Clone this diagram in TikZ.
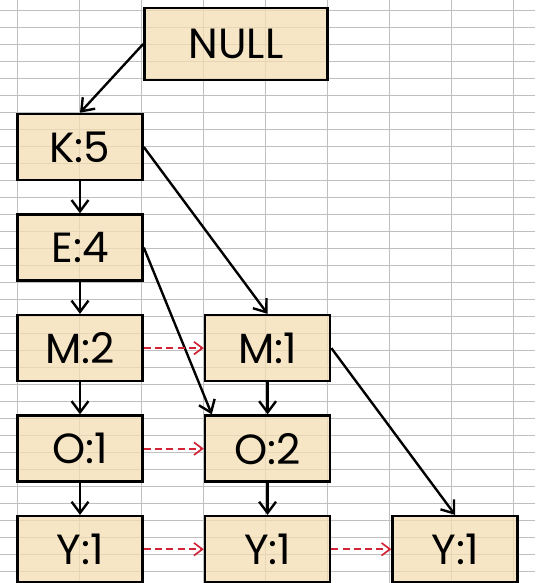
\documentclass[tikz,border=0pt]{standalone}
\usepackage{fontspec}
\setmainfont{Poppins}
\usetikzlibrary{arrows.meta,positioning}

\definecolor{boxfill}{RGB}{244,222,178}
\definecolor{linkred}{RGB}{210,35,55}

\begin{document}
\begin{tikzpicture}[
    x=0.025cm, y=-0.025cm,
    node distance=0.8cm and 1.5cm,
    item/.style={rectangle, draw=black, line width=1.8pt, fill=boxfill, fill opacity=0.75, text opacity=1,
                 minimum width=3.125cm, minimum height=1.65cm, inner sep=0pt, font=\fontsize{30}{34}\selectfont},
    link/.style={-{Straight Barb[length=8pt,width=12pt]}, line width=1.7pt},
    nodelink/.style={-{Straight Barb[length=6pt,width=9pt]}, line width=1.2pt, draw=linkred, dash pattern=on 5pt off 3pt},
    paper/.style={draw=gray!50, line width=0.5pt}
]
    \useasboundingbox (0,0) rectangle (535,583);
    \fill[white] (0,0) rectangle (535,583);

    % lined paper
    \foreach \y in {10,27,...,583} \draw[paper] (0,\y) -- (535,\y);
    \foreach \x in {17,79,...,535} \draw[paper] (\x,0) -- (\x,583);

    % tree
    \node (null) [item, minimum width=4.575cm, minimum height=1.8cm] at (236,44) {NULL};
    \node (k5) [item] at (80,147) {K:5};
    \node (e4) [item, below=of k5] {E:4};
    \node (m2) [item, below=of e4] {M:2};
    \node (o1) [item, below=of m2] {O:1};
    \node (ya) [item, below=of o1] {Y:1};
    \node (m1) [item, right=of m2] {M:1};
    \node (o2) [item, right=of o1] {O:2};
    \node (yb) [item, right=of ya] {Y:1};
    \node (yc) [item, right=of yb] {Y:1};

    \draw [link] (null.west) -- (k5.north);
    \draw [link] (k5) -- (e4);
    \draw [link] (k5.east) -- (m1.north);
    \draw [link] (e4) -- (m2);
    \draw [link] (e4.east) -- ([xshift=0.2cm]o2.north west);
    \draw [link] (m2) -- (o1);
    \draw [link] (o1) -- (ya);
    \draw [link] (m1) -- (o2);
    \draw [link] (m1.east) -- (yc.north);
    \draw [link] (o2) -- (yb);

    % node links
    \draw [nodelink] (m2) -- (m1);
    \draw [nodelink] (o1) -- (o2);
    \draw [nodelink] (ya) -- (yb);
    \draw [nodelink] (yb) -- (yc);
\end{tikzpicture}
\end{document}
